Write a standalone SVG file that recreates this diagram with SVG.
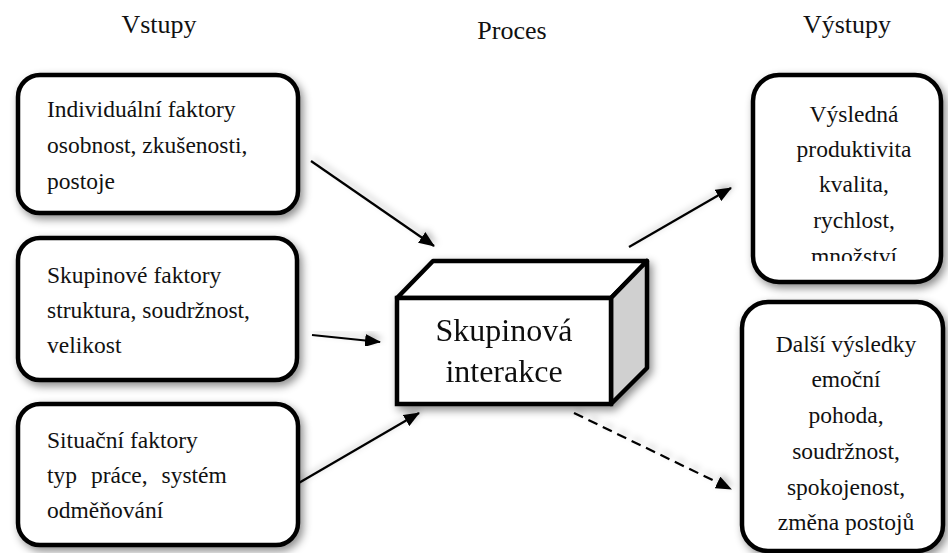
<svg xmlns="http://www.w3.org/2000/svg" width="948" height="553" viewBox="0 0 948 553" font-family="'Liberation Serif', 'Times New Roman', serif">
<style>
.t{font-size:26px;fill:#111}
.b{font-size:23.5px;fill:#111}
.box{fill:#fff;stroke:#000;stroke-width:4.5}
.ln{stroke:#000;stroke-width:2.2;fill:none}
</style>
<defs>
<filter id="sh" x="-20%" y="-20%" width="140%" height="140%">
<feDropShadow dx="3" dy="4" stdDeviation="4" flood-color="#000" flood-opacity="0.45"/>
</filter>
<filter id="sl" x="-20%" y="-50%" width="140%" height="200%">
<feDropShadow dx="2" dy="-3" stdDeviation="3" flood-color="#000" flood-opacity="0.25"/>
</filter>
<marker id="ah2" markerWidth="16" markerHeight="13" refX="15" refY="6.5" orient="auto" markerUnits="userSpaceOnUse" viewBox="0 0 16 13">
<path d="M0,0 L16,6.5 L0,13 z" fill="#000"/>
</marker>
<clipPath id="c1"><rect x="753" y="75" width="190" height="186"/></clipPath>
</defs>

<g id="titles">
<text class="t" x="159" y="33" text-anchor="middle">Vstupy</text>
<text class="t" x="512" y="39" text-anchor="middle">Proces</text>
<text class="t" x="847" y="33" text-anchor="middle">Výstupy</text>
</g>

<g id="connectors">
<line class="ln" x1="311" y1="161" x2="434" y2="246" marker-end="url(#ah2)" filter="url(#sl)"/>
<line class="ln" x1="312" y1="335" x2="380" y2="342" marker-end="url(#ah2)" filter="url(#sl)"/>
<line class="ln" x1="285" y1="491" x2="419" y2="413" marker-end="url(#ah2)" filter="url(#sl)"/>
<line class="ln" x1="629" y1="247" x2="731" y2="188" marker-end="url(#ah2)" filter="url(#sl)"/>
<line class="ln" x1="574" y1="413" x2="731" y2="489" stroke-dasharray="10,6" marker-end="url(#ah2)" filter="url(#sl)"/>
</g>

<g id="n-individual">
<rect class="box" x="18" y="75" width="280" height="138" rx="22" filter="url(#sh)"/>
<text class="b" x="47" y="117">Individuální faktory</text>
<text class="b" x="47" y="153">osobnost, zkušenosti,</text>
<text class="b" x="47" y="189">postoje</text>
</g>

<g id="n-skupinove">
<rect class="box" x="18" y="238" width="279" height="142" rx="22" filter="url(#sh)"/>
<text class="b" x="47" y="283">Skupinové faktory</text>
<text class="b" x="47" y="318">struktura, soudržnost,</text>
<text class="b" x="47" y="353">velikost</text>
</g>

<g id="n-situacni">
<rect class="box" x="18" y="404" width="280" height="141" rx="22" filter="url(#sh)"/>
<text class="b" x="47" y="448">Situační faktory</text>
<text class="b" x="47" y="483" word-spacing="8">typ práce, systém</text>
<text class="b" x="47" y="518">odměňování</text>
</g>

<g id="n-interakce" filter="url(#sh)">
<path d="M397,298 L433,261 L647,261 L611,298 Z" fill="#fff" stroke="#000" stroke-width="4.5" stroke-linejoin="round"/>
<path d="M611,298 L647,261 L647,368 L611,404 Z" fill="#d0d0d0" stroke="#000" stroke-width="4.5" stroke-linejoin="round"/>
<rect x="397" y="298" width="214" height="106" fill="#fff" stroke="#000" stroke-width="4.5"/>
<text x="504" y="341" font-size="32" fill="#111" text-anchor="middle">Skupinová</text>
<text x="504" y="382" font-size="32" fill="#111" text-anchor="middle">interakce</text>
</g>

<g id="n-produktivita">
<rect class="box" x="753" y="75" width="188" height="207" rx="26" filter="url(#sh)"/>
<g clip-path="url(#c1)">
<text class="b" x="854" y="122" text-anchor="middle">Výsledná</text>
<text class="b" x="854" y="157" text-anchor="middle">produktivita</text>
<text class="b" x="854" y="192" text-anchor="middle">kvalita,</text>
<text class="b" x="854" y="228" text-anchor="middle">rychlost,</text>
<text class="b" x="854" y="264" text-anchor="middle">množství</text>
</g>
</g>

<g id="n-dalsi">
<rect class="box" x="742" y="302" width="201" height="249" rx="26" filter="url(#sh)"/>
<text class="b" x="846" y="352" text-anchor="middle">Další výsledky</text>
<text class="b" x="846" y="387" text-anchor="middle">emoční</text>
<text class="b" x="846" y="423" text-anchor="middle">pohoda,</text>
<text class="b" x="846" y="459" text-anchor="middle">soudržnost,</text>
<text class="b" x="846" y="495" text-anchor="middle">spokojenost,</text>
<text class="b" x="846" y="530" text-anchor="middle">změna postojů</text>
</g>
</svg>
